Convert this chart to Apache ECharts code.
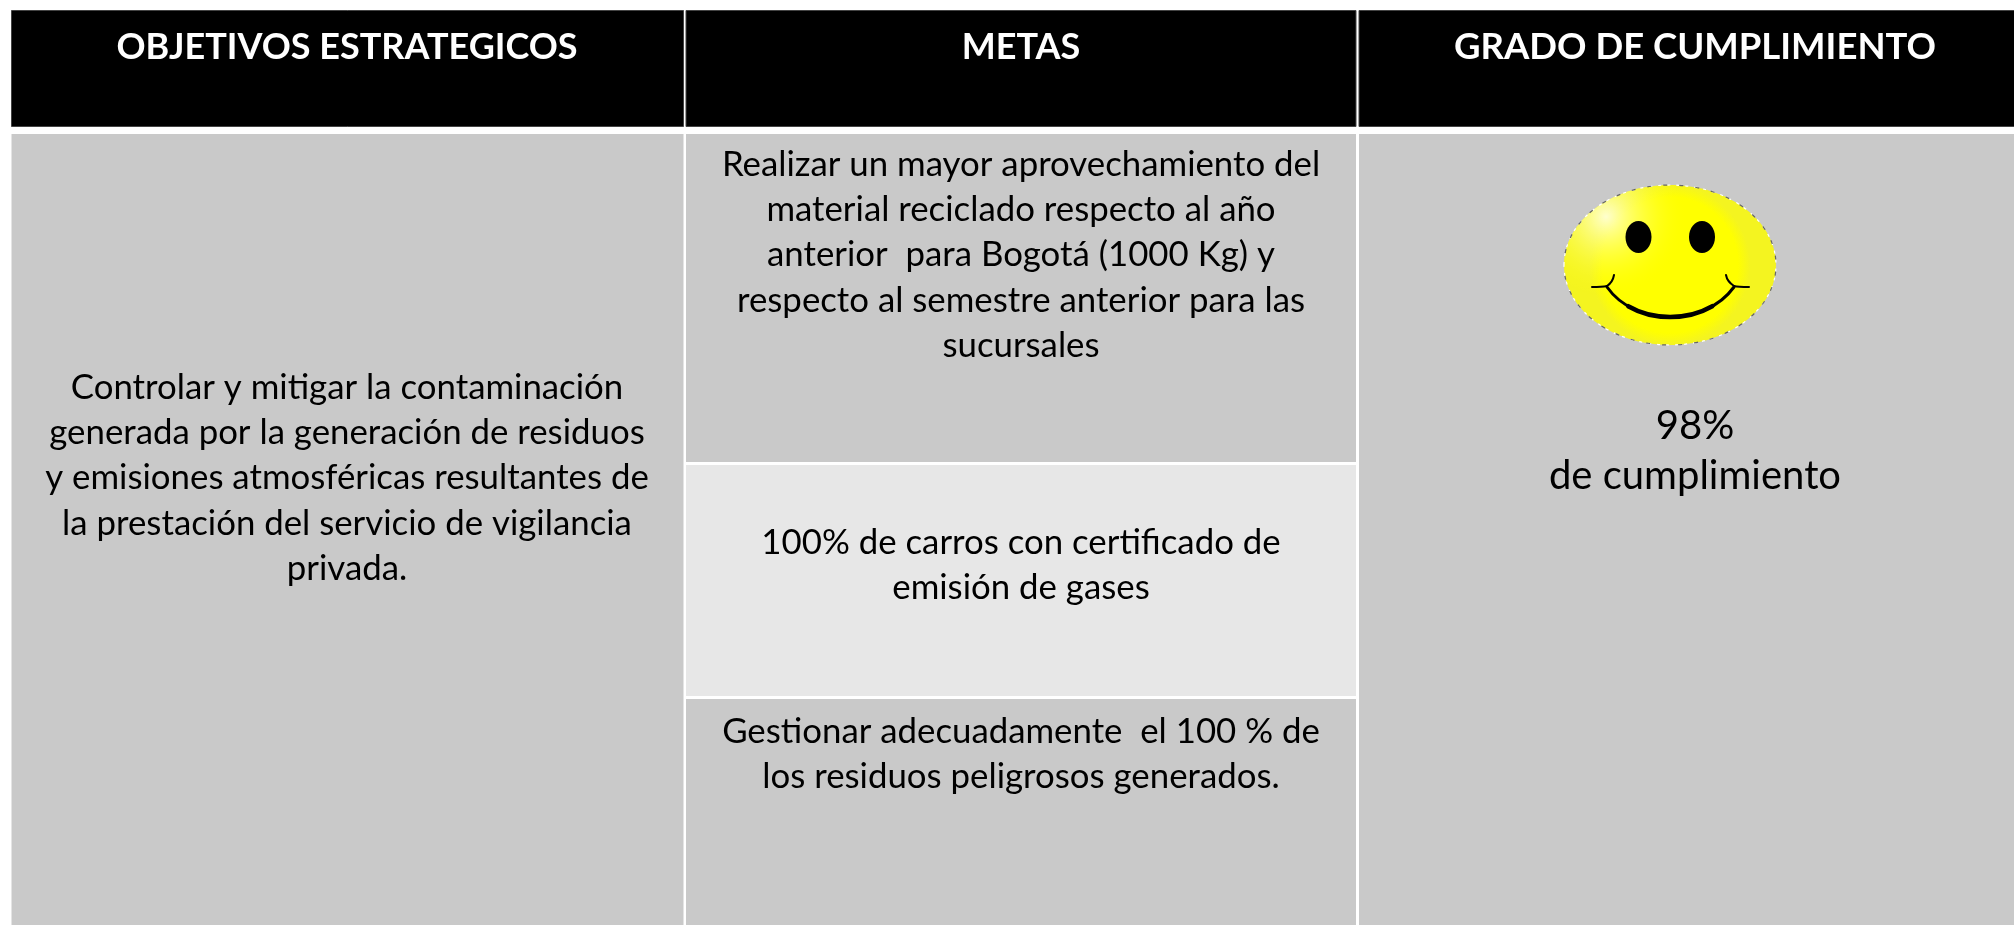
<!DOCTYPE html>
<html>
<head>
<meta charset="utf-8">
<title>Objetivos estrategicos</title>
<script src="https://cdn.jsdelivr.net/npm/echarts@6/dist/echarts.min.js"></script>
<style>
  html, body { margin: 0; padding: 0; background: #fff; }
  #main { width: 2014px; height: 925px; }
</style>
</head>
<body>
<div id="main"></div>
<script>
var headers = ["OBJETIVOS ESTRATEGICOS", "METAS", "GRADO DE CUMPLIMIENTO"];
var objetivo = [
  "Controlar y mitigar la contaminación",
  "generada por la generación de residuos",
  "y emisiones atmosféricas resultantes de",
  "la prestación del servicio de vigilancia",
  "privada."
];
var metas = [
  [
    "Realizar un mayor aprovechamiento del",
    "material reciclado respecto al año",
    "anterior  para Bogotá (1000 Kg) y",
    "respecto al semestre anterior para las",
    "sucursales"
  ],
  ["100% de carros con certificado de", "emisión de gases"],
  ["Gestionar adecuadamente  el 100 % de", "los residuos peligrosos generados."]
];
var cumplimiento = ["98%", "de cumplimiento"];

var FONT = "Lato, 'Open Sans', sans-serif";
var chart = echarts.init(document.getElementById("main"));

function rect(x, y, w, h, fill, stroke) {
  return {
    type: "rect",
    shape: { x: x, y: y, width: w, height: h },
    style: { fill: fill, stroke: stroke || null, lineWidth: stroke ? 1 : 0 }
  };
}
function label(lines, cx, cy, size, lineH, color, weight) {
  return {
    type: "text",
    x: cx,
    y: cy,
    style: {
      text: lines.join("\n"),
      font: (weight || "normal") + " " + size + "px " + FONT,
      fill: color || "#000",
      align: "center",
      verticalAlign: "middle",
      lineHeight: lineH
    }
  };
}
function curve(x1, y1, cx1, cy1, cx2, cy2, x2, y2, width) {
  return {
    type: "bezierCurve",
    shape: { x1: x1, y1: y1, cpx1: cx1, cpy1: cy1, cpx2: cx2, cpy2: cy2, x2: x2, y2: y2 },
    style: { fill: null, stroke: "#000", lineWidth: width, lineCap: "round" }
  };
}

var items = [
  // encabezado
  rect(11.5, 10.5, 672, 116, "#000", "#444"),
  rect(686, 10.5, 670, 116, "#000", "#444"),
  rect(1359, 10.5, 656, 116, "#000", "#444"),
  // cuerpo
  rect(11.5, 134, 672, 792, "#c9c9c9"),
  rect(686, 134, 670, 328, "#c9c9c9"),
  rect(686, 465, 670, 231, "#e7e7e7"),
  rect(686, 699, 670, 227, "#c9c9c9"),
  rect(1359, 134, 656, 792, "#c9c9c9"),

  label([headers[0]], 347, 47, 36, 42, "#fff", "bold"),
  label([headers[1]], 1021, 47, 36, 42, "#fff", "bold"),
  label([headers[2]], 1695, 47, 36.5, 42, "#fff", "bold"),

  label(objetivo, 347, 478, 34.8, 45.3),
  label(metas[0], 1021, 255, 34.8, 45.3),
  label(metas[1], 1021, 565, 34.8, 45.3),
  label(metas[2], 1021, 754, 34.8, 45.3),
  label(cumplimiento, 1695, 451, 40, 50),

  // carita feliz
  {
    type: "ellipse",
    shape: { cx: 1670, cy: 265, rx: 106, ry: 80 },
    style: {
      fill: {
        type: "radial", x: 0.5, y: 0.5, r: 0.5,
        colorStops: [
          { offset: 0, color: "#ffff00" },
          { offset: 0.85, color: "#ffff00" },
          { offset: 1, color: "#f4f420" }
        ]
      }
    }
  },
  {
    type: "ellipse",
    shape: { cx: 1670, cy: 265, rx: 106, ry: 80 },
    style: {
      fill: {
        type: "radial", x: 0.2, y: 0.2, r: 0.5,
        colorStops: [
          { offset: 0, color: "rgba(255,255,215,0.95)" },
          { offset: 1, color: "rgba(255,255,0,0)" }
        ]
      },
      stroke: "#fff", lineWidth: 1.2, lineDash: [3, 6]
    }
  },
  {
    type: "ellipse",
    shape: { cx: 1670, cy: 265, rx: 106, ry: 80 },
    style: { fill: null, stroke: "#666", lineWidth: 1.2, lineDash: [4, 12], lineDashOffset: 4 }
  },
  { type: "ellipse", shape: { cx: 1638.5, cy: 237, rx: 13, ry: 16 }, style: { fill: "#000" } },
  { type: "ellipse", shape: { cx: 1702, cy: 237, rx: 13, ry: 16 }, style: { fill: "#000" } },
  // boca: trazo fino de punta a punta y trazo grueso en el centro
  curve(1607, 287, 1635, 327, 1705, 327, 1734, 287, 3),
  curve(1628.2, 306.2, 1653, 320.6, 1687.1, 320.6, 1712.3, 306.2, 4.5),
  // comisuras
  curve(1592, 287, 1597, 287, 1602, 287, 1607, 286, 2),
  curve(1607, 286, 1610, 284, 1613, 281, 1614, 275, 2),
  curve(1749, 287, 1743, 287, 1738, 287, 1734, 286, 2),
  curve(1734, 286, 1731, 284, 1727, 281, 1726, 275, 2)
];

chart.setOption({
  backgroundColor: "#fff",
  animation: false,
  graphic: { elements: items }
});
</script>
</body>
</html>
